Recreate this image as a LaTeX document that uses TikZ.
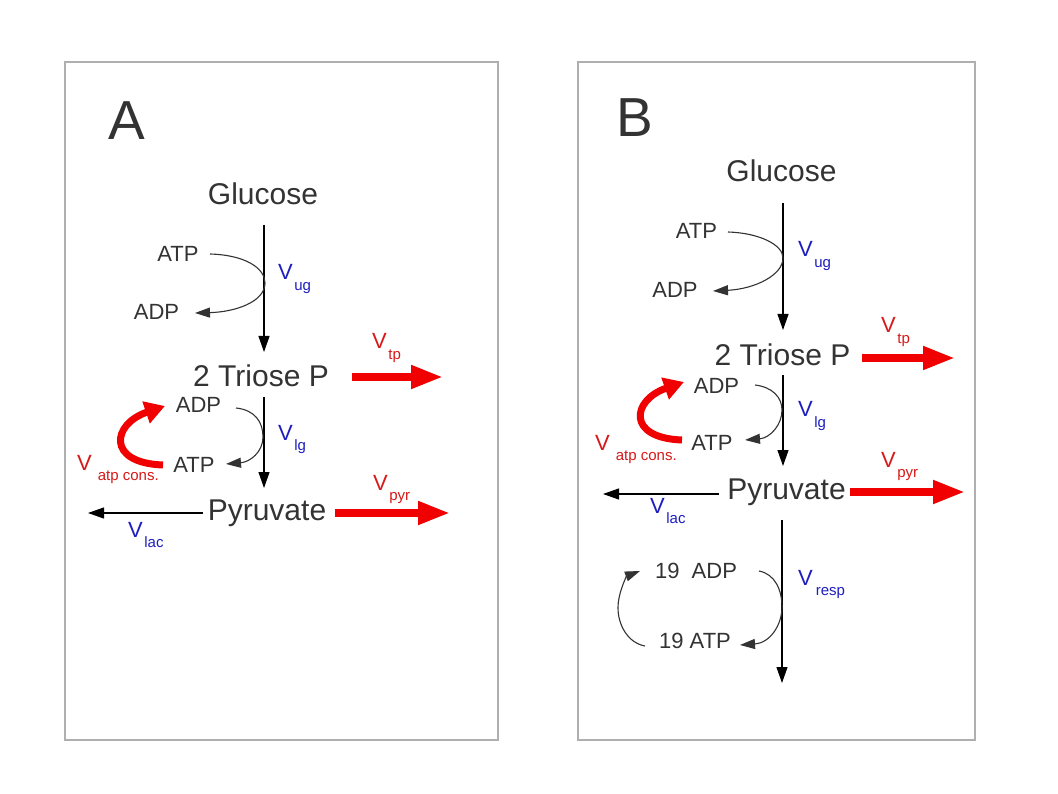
\documentclass[tikz,border=0pt]{standalone}
\usepackage{fontspec}
\setmainfont{Liberation Sans}
\usetikzlibrary{arrows.meta}
\definecolor{txt}{RGB}{51,51,51}
\definecolor{vblue}{RGB}{30,30,190}
\definecolor{vred}{RGB}{215,25,25}
\definecolor{fred}{RGB}{240,0,0}
\definecolor{frame}{RGB}{175,175,175}
\newcommand\rate[2][1.5pt]{V\hspace{#1}\raisebox{-10.5pt}{\fontsize{15}{15}\selectfont #2}}
\tikzset{
  big/.style={inner sep=0pt, anchor=base, text=txt, font=\fontsize{30}{36}\selectfont},
  small/.style={inner sep=0pt, anchor=base, text=txt, font=\fontsize{22}{26}\selectfont},
  panel/.style={inner sep=0pt, anchor=base west, text=txt, font=\fontsize{55}{60}\selectfont},
  vlab/.style={inner sep=0pt, anchor=base west, font=\fontsize{22}{26}\selectfont},
  flux/.style={draw=black, line width=1.1pt, -{Triangle[length=16pt,width=11pt]}},
  cof/.style={draw=txt, line width=1.1pt, -{Triangle[length=15pt,width=10pt]}},
  bigred/.style={draw=fred, line width=7.5pt, -{Triangle[length=32pt,width=22pt]}},
  redcurve/.style={draw=fred, line width=7pt, -{Triangle[length=20pt,width=22pt]}},
  box/.style={draw=frame, line width=1.3pt}
}
\begin{document}
\begin{tikzpicture}[x=1pt,y=-1pt]
\useasboundingbox (0,0) rectangle (1058,794);
\fill[white] (0,0) rectangle (1058,794);
% frames
\draw[box] (65,62) rectangle (498,740);
\draw[box] (578,62) rectangle (975,740);

% ---------------- Panel A ----------------
\node[panel] (labA) at (108,140) {A};
\node[big] (glcA) at (263,205) {Glucose};
\node[small] (atpA1) at (178,262) {ATP};
\node[small] (adpA1) at (156.5,320) {ADP};
\node[big] (tpA) at (261,387) {2 Triose P};
\node[small] (adpA2) at (198.5,413) {ADP};
\node[small] (atpA2) at (194,472) {ATP};
\node[big] (pyrA) at (267,520) {Pyruvate};

\node[vlab, text=vblue] (vugA) at (278,280) {\rate{ug}};
\node[vlab, text=vblue] (vlgA) at (278,440) {\rate{lg}};
\node[vlab, text=vred] (vtpA) at (372,349) {\rate{tp}};
\node[vlab, text=vred] (vpyrA) at (373,490) {\rate{pyr}};
\node[vlab, text=vblue] (vlacA) at (128,537) {\rate{lac}};
\node[vlab, text=vred] (vatpA) at (77,470) {\rate[6pt]{atp cons.}};

\coordinate (a1s) at (264,225);
\coordinate (a1e) at (264,352);
\draw[flux] (a1s) -- (a1e);
\coordinate (a1c0) at (210,254);
\coordinate (a1c1) at (265,283);
\coordinate (a1c2) at (195,313);
\draw[cof] (a1c0) .. controls (245,255) and (265,268) .. (a1c1)
               .. controls (265,302) and (235,312) .. (a1c2);
\coordinate (a2s) at (264,397);
\coordinate (a2e) at (264,488);
\draw[flux] (a2s) -- (a2e);
\coordinate (a2c0) at (236,408);
\coordinate (a2c1) at (263,437);
\coordinate (a2c2) at (226,464);
\draw[cof] (a2c0) .. controls (255,410) and (263,422) .. (a2c1)
               .. controls (263,452) and (250,462) .. (a2c2);
\coordinate (arc0) at (163,465);
\coordinate (arc1) at (165,406);
\draw[redcurve] (arc0) .. controls (106,463) and (112,424) .. (arc1);
\coordinate (alac0) at (203,513);
\coordinate (alac1) at (88,513);
\draw[flux] (alac0) -- (alac1);
\coordinate (atp0) at (352,377);
\coordinate (atp1) at (443,377);
\draw[bigred] (atp0) -- (atp1);
\coordinate (apy0) at (335,513);
\coordinate (apy1) at (450,513);
\draw[bigred] (apy0) -- (apy1);

% ---------------- Panel B ----------------
\node[panel] (labB) at (616,137) {B};
\node[big] (glcB) at (781.5,182) {Glucose};
\node[small] (atpB1) at (696.5,239) {ATP};
\node[small] (adpB1) at (675,298) {ADP};
\node[big] (tpB) at (782.5,366) {2 Triose P};
\node[small] (adpB2) at (716.5,393) {ADP};
\node[small] (atpB2) at (712,450) {ATP};
\node[big] (pyrB) at (786.5,499) {Pyruvate};
\node[small] (adpB3) at (696,578) {19\ \ ADP};
\node[small] (atpB3) at (695,648) {19 ATP};

\node[vlab, text=vblue] (vugB) at (798,257) {\rate{ug}};
\node[vlab, text=vblue] (vlgB) at (798,417) {\rate{lg}};
\node[vlab, text=vred] (vtpB) at (881,333) {\rate{tp}};
\node[vlab, text=vred] (vpyrB) at (881,467) {\rate{pyr}};
\node[vlab, text=vblue] (vlacB) at (650,513) {\rate{lac}};
\node[vlab, text=vred] (vatpB) at (595,450) {\rate[6pt]{atp cons.}};
\node[vlab, text=vblue] (vrespB) at (798,585) {\rate[3pt]{resp}};

\coordinate (b1s) at (783,203);
\coordinate (b1e) at (783,330);
\draw[flux] (b1s) -- (b1e);
\coordinate (b1c0) at (728,232);
\coordinate (b1c1) at (783,258);
\coordinate (b1c2) at (713,291);
\draw[cof] (b1c0) .. controls (760,233) and (783,245) .. (b1c1)
               .. controls (783,275) and (755,289) .. (b1c2);
\coordinate (btp0) at (862,358);
\coordinate (btp1) at (955,358);
\draw[bigred] (btp0) -- (btp1);
\coordinate (b2s) at (783,375);
\coordinate (b2e) at (783,466);
\draw[flux] (b2s) -- (b2e);
\coordinate (b2c0) at (755,385);
\coordinate (b2c1) at (782,410);
\coordinate (b2c2) at (745,440);
\draw[cof] (b2c0) .. controls (772,387) and (782,397) .. (b2c1)
               .. controls (782,425) and (770,438) .. (b2c2);
\coordinate (brc0) at (682,440);
\coordinate (brc1) at (684,382);
\draw[redcurve] (brc0) .. controls (626,438) and (632,400) .. (brc1);
\coordinate (blac0) at (719,494);
\coordinate (blac1) at (603,494);
\draw[flux] (blac0) -- (blac1);
\coordinate (bpy0) at (850,492);
\coordinate (bpy1) at (965,492);
\draw[bigred] (bpy0) -- (bpy1);
\coordinate (b3s) at (782,520);
\coordinate (b3e) at (782,683);
\draw[flux] (b3s) -- (b3e);
\coordinate (b3c0) at (759,571);
\coordinate (b3c1) at (782,607);
\coordinate (b3c2) at (740,645);
\draw[cof] (b3c0) .. controls (775,574) and (782,590) .. (b3c1)
               .. controls (782,625) and (770,643) .. (b3c2);
\coordinate (b3d0) at (645,646);
\coordinate (b3d1) at (618,608);
\coordinate (b3d2) at (640,571);
\draw[cof] (b3d0) .. controls (628,643) and (618,625) .. (b3d1)
               .. controls (618,592) and (627,576) .. (b3d2);
\end{tikzpicture}
\end{document}
